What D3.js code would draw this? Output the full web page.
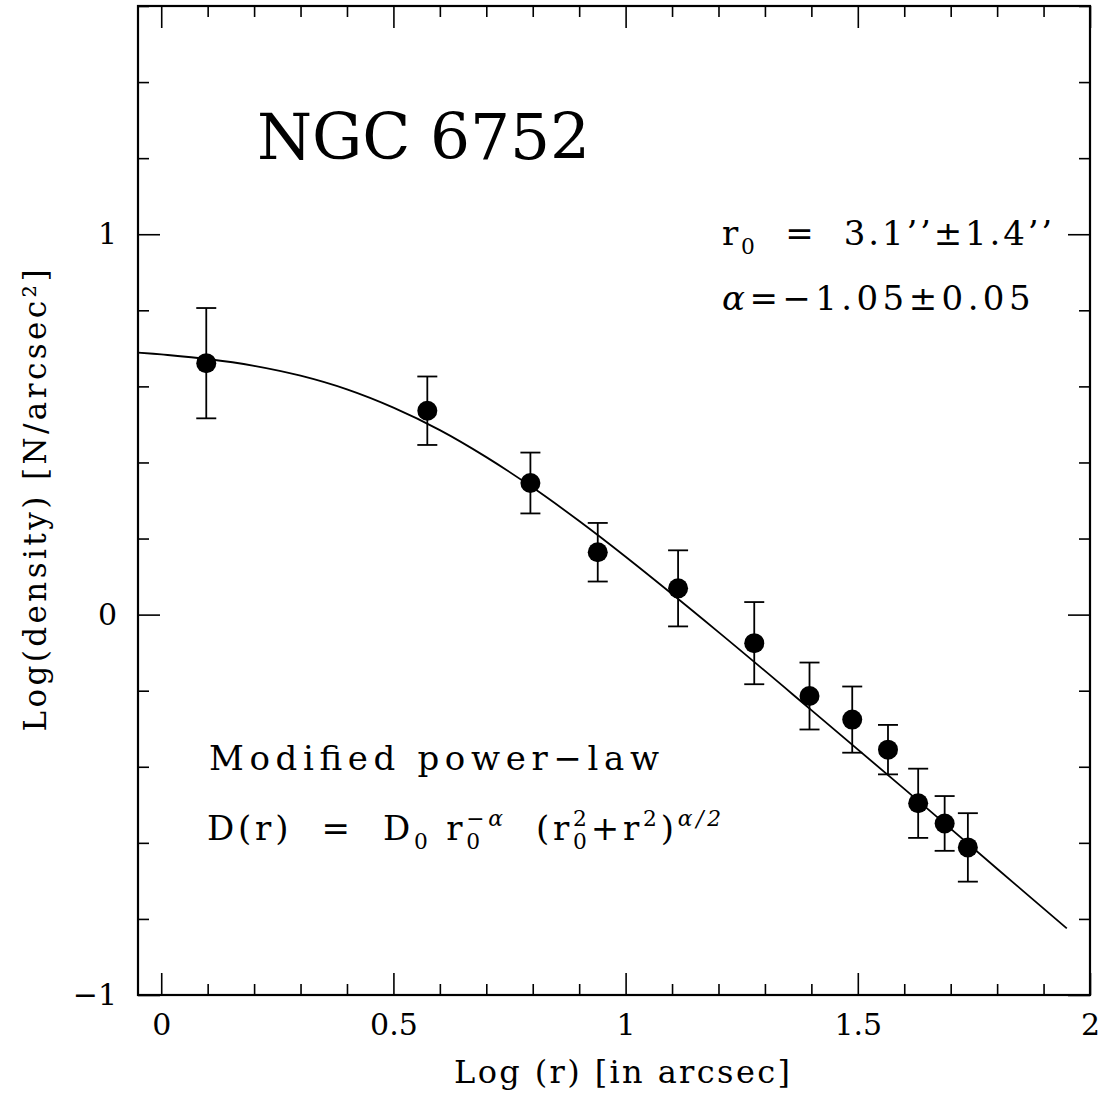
<!DOCTYPE html>
<html><head><meta charset="utf-8">
<script src="https://cdn.jsdelivr.net/npm/d3@7"></script>
<style>body{margin:0;background:#fff} svg{display:block} svg text{white-space:pre}</style>
</head><body>
<script>
// ---------- data ----------
const logR     = [0.097, 0.573, 0.795, 0.940, 1.113, 1.277, 1.396, 1.488, 1.565, 1.630, 1.687, 1.737];
const logDens  = [0.661, 0.536, 0.346, 0.164, 0.069, -0.075, -0.214, -0.276, -0.355, -0.496, -0.549, -0.612];
const errDens  = [0.145, 0.090, 0.080, 0.077, 0.100, 0.108, 0.088, 0.087, 0.065, 0.091, 0.072, 0.090];
// fitted modified power-law curve, sampled along the drawn line
const fitLogR    = [-0.05, 0.0, 0.1, 0.2, 0.3, 0.4, 0.5, 0.6, 0.7, 0.8, 0.9, 1.0, 1.2, 1.4, 1.6, 1.8, 1.95];
const fitLogDens = [0.689, 0.684, 0.672, 0.654, 0.628, 0.592, 0.544, 0.485, 0.414, 0.334, 0.246, 0.152, -0.046, -0.251, -0.458, -0.668, -0.825];
const xMajorTicks = [0, 0.5, 1, 1.5, 2];
const xTickLabels = ["0", "0.5", "1", "1.5", "2"];
const yMajorTicks = [-1, 0, 1];
const yTickLabels = ["\u22121", "0", "1"];
const titleText = "NGC 6752";
const xLabelText = "Log (r) [in arcsec]";
const yLabelText = "Log(density) [N/arcsec\u00B2]";
const modelName = "Modified power\u2212law";

// ---------- setup ----------
const W = 1106, H = 1100;
const FONT = "'DejaVu Serif', 'Liberation Serif', serif";
const svg = d3.select("body").append("svg").attr("width", W).attr("height", H)
  .style("font-family", FONT);
svg.append("rect").attr("width", W).attr("height", H).attr("fill", "#fff");

const x = d3.scaleLinear().domain([-0.05, 2]).range([138, 1090]);
const y = d3.scaleLinear().domain([-1, 1.6]).range([995, 6]);

const minorX = x.ticks(20).filter(v => !xMajorTicks.some(m => Math.abs(m - v) < 1e-6));
const minorY = y.ticks(13).filter(v => !yMajorTicks.some(m => Math.abs(m - v) < 1e-6));

const TICKFONT = 30;
function styleAxis(g) {
  g.select(".domain").remove();
  g.selectAll(".tick line").attr("stroke", "#000").attr("stroke-width", 1.6);
  g.selectAll(".tick text").attr("fill", "#000").style("font-family", FONT).attr("font-size", TICKFONT);
}
const MAJ = 22, MIN = 11;
// bottom
svg.append("g").attr("transform", `translate(0,${y(-1)})`)
  .call(d3.axisBottom(x).tickValues(xMajorTicks).tickSizeInner(-MAJ).tickSizeOuter(0).tickPadding(19)
    .tickFormat((d, i) => xTickLabels[i])).call(styleAxis);
svg.append("g").attr("transform", `translate(0,${y(-1)})`)
  .call(d3.axisBottom(x).tickValues(minorX).tickSizeInner(-MIN).tickSizeOuter(0).tickFormat("")).call(styleAxis);
// top
svg.append("g").attr("transform", `translate(0,${y(1.6)})`)
  .call(d3.axisTop(x).tickValues(xMajorTicks).tickSizeInner(-MAJ).tickSizeOuter(0).tickFormat("")).call(styleAxis);
svg.append("g").attr("transform", `translate(0,${y(1.6)})`)
  .call(d3.axisTop(x).tickValues(minorX).tickSizeInner(-MIN).tickSizeOuter(0).tickFormat("")).call(styleAxis);
// left
svg.append("g").attr("transform", `translate(${x(-0.05)},0)`)
  .call(d3.axisLeft(y).tickValues(yMajorTicks).tickSizeInner(-MAJ).tickSizeOuter(0).tickPadding(21)
    .tickFormat((d, i) => yTickLabels[i])).call(styleAxis);
svg.append("g").attr("transform", `translate(${x(-0.05)},0)`)
  .call(d3.axisLeft(y).tickValues(minorY).tickSizeInner(-MIN).tickSizeOuter(0).tickFormat("")).call(styleAxis);
// right
svg.append("g").attr("transform", `translate(${x(2)},0)`)
  .call(d3.axisRight(y).tickValues(yMajorTicks).tickSizeInner(-MAJ).tickSizeOuter(0).tickFormat("")).call(styleAxis);
svg.append("g").attr("transform", `translate(${x(2)},0)`)
  .call(d3.axisRight(y).tickValues(minorY).tickSizeInner(-MIN).tickSizeOuter(0).tickFormat("")).call(styleAxis);

// frame
svg.append("rect")
  .attr("x", x(-0.05)).attr("y", y(1.6))
  .attr("width", x(2) - x(-0.05)).attr("height", y(-1) - y(1.6))
  .attr("fill", "none").attr("stroke", "#000").attr("stroke-width", 2.2);

// ---------- fit curve ----------
const fitPts = fitLogR.map((r, i) => [r, fitLogDens[i]]);
svg.append("path").datum(fitPts)
  .attr("d", d3.line().x(d => x(d[0])).y(d => y(d[1])).curve(d3.curveCatmullRom))
  .attr("fill", "none").attr("stroke", "#000").attr("stroke-width", 1.8);

// ---------- error bars & points ----------
const pts = logR.map((r, i) => ({ r, d: logDens[i], e: errDens[i] }));
const eb = svg.append("g").attr("stroke", "#000").attr("stroke-width", 1.8);
const CAP = 10;
pts.forEach(p => {
  eb.append("line").attr("x1", x(p.r)).attr("x2", x(p.r)).attr("y1", y(p.d - p.e)).attr("y2", y(p.d + p.e));
  eb.append("line").attr("x1", x(p.r) - CAP).attr("x2", x(p.r) + CAP).attr("y1", y(p.d + p.e)).attr("y2", y(p.d + p.e));
  eb.append("line").attr("x1", x(p.r) - CAP).attr("x2", x(p.r) + CAP).attr("y1", y(p.d - p.e)).attr("y2", y(p.d - p.e));
});
svg.append("g").selectAll("circle").data(pts).join("circle")
  .attr("cx", d => x(d.r)).attr("cy", d => y(d.d)).attr("r", 10).attr("fill", "#000");

// ---------- text helpers ----------
function plainText(tx, ty, str, size, width, anchor) {
  return svg.append("text").attr("x", tx).attr("y", ty).attr("font-size", size)
    .attr("text-anchor", anchor || "start")
    .attr("textLength", width).attr("lengthAdjust", "spacing").attr("fill", "#000").text(str);
}
function richText(x0, yBase, pieces, size, targetWidth) {
  const g = svg.append("g");
  function layout(spacing) {
    g.selectAll("*").remove();
    let cx = x0, lastStart = x0, lastEnd = x0, nchars = 0;
    pieces.forEach(p => {
      const sc = p.scale || 1;
      const startX = p.stack ? lastStart : cx;
      const t = g.append("text").attr("x", startX).attr("y", yBase + (p.dy || 0) * size)
        .attr("font-size", size * sc).attr("letter-spacing", spacing)
        .attr("font-style", p.it ? "italic" : "normal").attr("fill", "#000").text(p.t);
      const w = t.node().getComputedTextLength();
      const end = startX + w;
      if (p.stack) { lastEnd = Math.max(lastEnd, end); }
      else { lastStart = startX; lastEnd = end; nchars += p.t.length; }
      cx = lastEnd;
    });
    return { width: cx - x0, nchars };
  }
  const nat = layout(0);
  const sp = Math.max(0, (targetWidth - nat.width) / Math.max(1, nat.nchars));
  layout(sp);
}

// ---------- annotations ----------
plainText(257, 159, titleText, 63, 333);

const SUB = 0.25, SUP = -0.42, SS = 0.64;
richText(722, 245, [
  { t: "r" },
  { t: "0", scale: SS, dy: SUB },
  { t: "  =  3.1\u2019\u2019\u00B11.4\u2019\u2019" }
], 34, 333);

richText(722, 310, [
  { t: "\u03B1", it: true },
  { t: "=\u22121.05\u00B10.05" }
], 34, 313);

plainText(209, 770, modelName, 34, 450);

richText(207, 840, [
  { t: "D(r)  =  D" },
  { t: "0", scale: SS, dy: SUB },
  { t: " r" },
  { t: "\u2212\u03B1", scale: SS, dy: SUP, it: true },
  { t: "0", scale: SS, dy: SUB, stack: true },
  { t: "  (r" },
  { t: "2", scale: SS, dy: SUP },
  { t: "0", scale: SS, dy: SUB, stack: true },
  { t: "+r" },
  { t: "2", scale: SS, dy: SUP },
  { t: ")" },
  { t: "\u03B1/2", scale: SS, dy: SUP, it: true }
], 34, 518);

// axis labels
plainText(622, 1083, xLabelText, 32, 336, "middle");
svg.append("text").attr("transform", `translate(46,${(y(1.6) + y(-1)) / 2}) rotate(-90)`)
  .attr("text-anchor", "middle").attr("font-size", 31)
  .attr("textLength", 462).attr("lengthAdjust", "spacing").attr("fill", "#000").text(yLabelText);
</script>
</body></html>
